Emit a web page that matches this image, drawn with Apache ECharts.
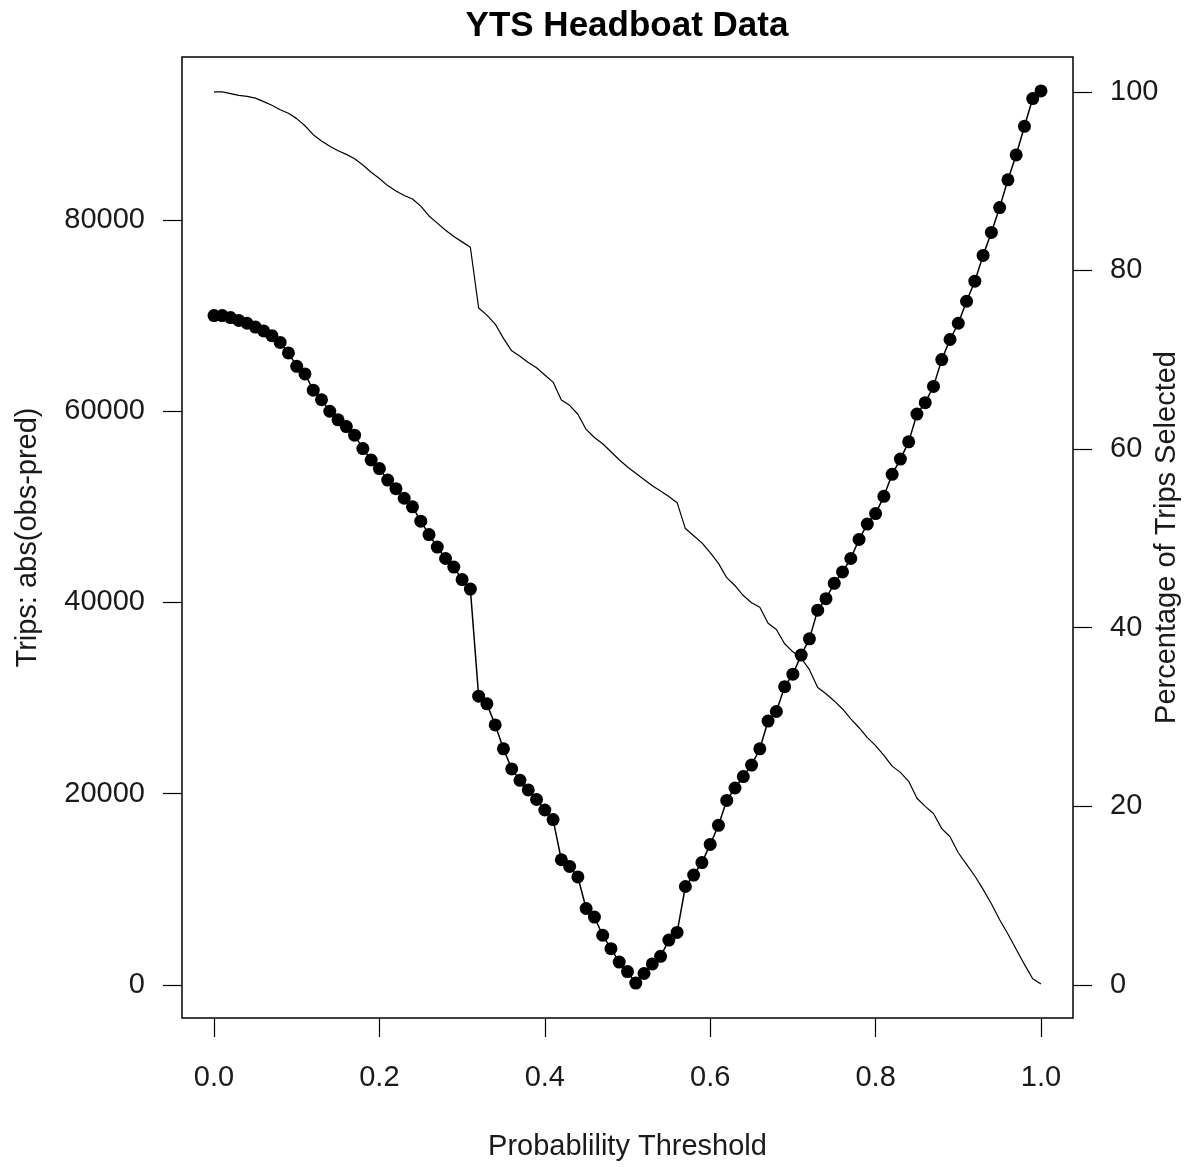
<!DOCTYPE html>
<html>
<head>
<meta charset="utf-8">
<title>YTS Headboat Data</title>
<script src="https://cdn.jsdelivr.net/npm/echarts@6/dist/echarts.min.js"></script>
<style>
  html, body { margin: 0; padding: 0; background: #fff; }
  #chart { width: 1190px; height: 1167px; }
</style>
</head>
<body>
<div id="chart"></div>
<script>
// probability thresholds (x)
const thresholds = [
  0.00, 0.01, 0.02, 0.03, 0.04, 0.05, 0.06, 0.07, 0.08, 0.09,
  0.10, 0.11, 0.12, 0.13, 0.14, 0.15, 0.16, 0.17, 0.18, 0.19,
  0.20, 0.21, 0.22, 0.23, 0.24, 0.25, 0.26, 0.27, 0.28, 0.29,
  0.30, 0.31, 0.32, 0.33, 0.34, 0.35, 0.36, 0.37, 0.38, 0.39,
  0.40, 0.41, 0.42, 0.43, 0.44, 0.45, 0.46, 0.47, 0.48, 0.49,
  0.50, 0.51, 0.52, 0.53, 0.54, 0.55, 0.56, 0.57, 0.58, 0.59,
  0.60, 0.61, 0.62, 0.63, 0.64, 0.65, 0.66, 0.67, 0.68, 0.69,
  0.70, 0.71, 0.72, 0.73, 0.74, 0.75, 0.76, 0.77, 0.78, 0.79,
  0.80, 0.81, 0.82, 0.83, 0.84, 0.85, 0.86, 0.87, 0.88, 0.89,
  0.90, 0.91, 0.92, 0.93, 0.94, 0.95, 0.96, 0.97, 0.98, 0.99,
  1.00
];

// Trips: abs(obs-pred), left axis, points + line
const tripsError = [
  70000, 70000, 69800, 69500, 69200, 68800, 68400, 67900, 67200, 66100,
  64700, 63900, 62200, 61200, 60000, 59100, 58400, 57500, 56100, 54900,
  54000, 52800, 51900, 50900, 50000, 48500, 47100, 45800, 44600, 43700,
  42400, 41400, 30200, 29400, 27200, 24700, 22600, 21400, 20400, 19400,
  18300, 17300, 13100, 12400, 11300, 8000, 7100, 5200, 3800, 2400,
  1400, 200, 1200, 2200, 3000, 4700, 5500, 10300, 11500, 12800,
  14700, 16700, 19300, 20600, 21800, 23000, 24700, 27600, 28600, 31200,
  32500, 34500, 36200, 39200, 40400, 42000, 43200, 44600, 46600, 48200,
  49300, 51100, 53400, 55000, 56800, 59700, 60900, 62600, 65400, 67500,
  69200, 71500, 73600, 76300, 78700, 81300, 84200, 86800, 89800, 92700,
  93500
];

// Percentage of trips selected, right axis, thin line
const pctSelected = [
  100.0, 100.0, 99.8, 99.6, 99.5, 99.3, 98.9, 98.5, 98.0, 97.6,
  97.0, 96.2, 95.2, 94.5, 93.9, 93.4, 93.0, 92.5, 91.8, 91.0,
  90.3, 89.5, 88.9, 88.4, 88.0, 87.2, 86.1, 85.3, 84.5, 83.8,
  83.2, 82.6, 75.8, 75.0, 74.0, 72.4, 71.0, 70.4, 69.7, 69.1,
  68.3, 67.5, 65.5, 64.9, 63.9, 62.2, 61.3, 60.6, 59.7, 58.8,
  58.0, 57.3, 56.6, 55.9, 55.3, 54.7, 54.0, 51.1, 50.3, 49.5,
  48.4, 47.2, 45.6, 44.7, 43.6, 42.8, 42.3, 40.5, 39.8, 38.2,
  37.3, 36.6, 35.3, 33.3, 32.6, 31.8, 30.9, 29.8, 28.8, 27.7,
  26.8, 25.7, 24.5, 23.8, 22.8, 20.9, 20.0, 19.2, 17.5, 16.6,
  14.8, 13.5, 12.2, 10.7, 9.1, 7.3, 5.7, 4.0, 2.3, 0.7,
  0.1
];

const xTicks = [0, 0.2, 0.4, 0.6, 0.8, 1.0];
const leftTicks = [0, 20000, 40000, 60000, 80000];
const rightTicks = [0, 20, 40, 60, 80, 100];

const font = '"Liberation Sans", Arial, sans-serif';
const textColor = '#1a1a1a';

const chart = echarts.init(document.getElementById('chart'));

const tickStyle = { show: true, inside: false, length: 19, lineStyle: { color: '#000', width: 1.2 } };
// axis line hidden (grid border draws the box), and kept off the zero line
const hiddenLine = { show: false, onZero: false };

const options = {
    animation: false,
    backgroundColor: '#fff',
    textStyle: { fontFamily: font },
    title: {
        text: 'YTS Headboat Data',
        left: 622,
        textAlign: 'center',
        top: 4,
        textStyle: { fontSize: 35, fontWeight: 'bold', color: '#000', fontFamily: font }
    },
    grid: {
        left: 182,
        right: 117,
        top: 57,
        bottom: 149,
        containLabel: false,
        outerBoundsMode: 'none',
        show: true,
        borderColor: '#000',
        borderWidth: 1.5,
        backgroundColor: 'transparent'
    },
    xAxis: {
        type: 'value',
        min: -0.0387,
        max: 1.0387,
        name: 'Probablility Threshold',
        nameLocation: 'middle',
        nameGap: 114,
        nameMoveOverlap: false,
        nameTextStyle: { fontSize: 29, color: textColor, fontFamily: font },
        axisLine: hiddenLine,
        splitLine: { show: false },
        axisTick: Object.assign({ customValues: xTicks }, tickStyle),
        axisLabel: {
            customValues: xTicks,
            margin: 45,
            fontSize: 29,
            color: textColor,
            fontFamily: font,
            formatter: (v) => v.toFixed(1)
        }
    },
    yAxis: [
        {
            type: 'value',
            position: 'left',
            min: -3451,
            max: 97045,
            name: 'Trips: abs(obs-pred)',
            nameLocation: 'middle',
            nameRotate: 90,
            nameGap: 140,
            nameMoveOverlap: false,
            nameTextStyle: { fontSize: 29, color: textColor, fontFamily: font },
            axisLine: hiddenLine,
            splitLine: { show: false },
            axisTick: Object.assign({ customValues: leftTicks }, tickStyle),
            axisLabel: {
                customValues: leftTicks,
                margin: 37,
                fontSize: 29,
                color: textColor,
                fontFamily: font,
                formatter: (v) => String(v)
            }
        },
        {
            type: 'value',
            position: 'right',
            min: -3.7,
            max: 103.9,
            name: 'Percentage of Trips Selected',
            nameLocation: 'middle',
            nameRotate: 90,
            nameGap: 79,
            nameMoveOverlap: false,
            nameTextStyle: { fontSize: 29, color: textColor, fontFamily: font },
            axisLine: hiddenLine,
            splitLine: { show: false },
            axisTick: Object.assign({ customValues: rightTicks }, tickStyle),
            axisLabel: {
                customValues: rightTicks,
                margin: 37,
                fontSize: 29,
                color: textColor,
                fontFamily: font,
                formatter: (v) => String(v)
            }
        }
    ],
    series: [
        {
            name: 'Trips: abs(obs-pred)',
            type: 'line',
            yAxisIndex: 0,
            data: thresholds.map((x, i) => [x, tripsError[i]]),
            symbol: 'circle',
            symbolSize: 13,
            showSymbol: true,
            itemStyle: { color: '#000' },
            lineStyle: { color: '#000', width: 1.5 }
        },
        {
            name: 'Percentage of Trips Selected',
            type: 'line',
            yAxisIndex: 1,
            data: thresholds.map((x, i) => [x, pctSelected[i]]),
            showSymbol: false,
            symbol: 'none',
            lineStyle: { color: '#000', width: 1.2 }
        }
    ]
};

chart.setOption(options);
</script>
</body>
</html>
